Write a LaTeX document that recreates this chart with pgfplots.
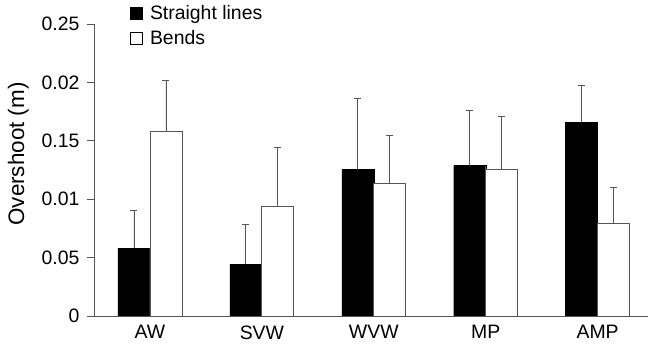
\documentclass[border=0pt]{standalone}
\usepackage{pgfplots}
\pgfplotsset{compat=1.18}
\usepackage{fontspec}
\setmainfont{Liberation Sans}
\definecolor{axgray}{HTML}{555555}
\begin{document}
\begin{tikzpicture}
\path (0,0) rectangle (651bp,351bp);
\begin{axis}[
  at={(94bp,35bp)}, anchor=south west,
  scale only axis, width=554bp, height=292bp,
  ybar=0pt, bar width=0.286,
  xmin=-0.5, xmax=4.45, ymin=0, ymax=0.25,
  axis lines*=left,
  axis line style={axgray, line width=0.8pt},
  xtick=data, xticklabels={AW,SVW,WVW,MP,AMP},
  xtick style={draw=none},
  ytick={0,0.05,0.1,0.15,0.2,0.25},
  yticklabels={0,0.05,0.01,0.15,0.02,0.25},
  ytick style={axgray, line width=0.8pt},
  tick align=outside, major tick length=7bp,
  ticklabel style={font=\fontsize{19.5}{21}\selectfont},
  xticklabel style={yshift=1bp},
  yticklabel style={xshift=-4bp},
  ylabel={Overshoot (m)},
  ylabel style={font=\fontsize{22.5}{24}\selectfont, yshift=6bp, xshift=16bp},
  legend style={at={(0.065,1.07)}, anchor=north west, draw=none, fill=none,
    font=\fontsize{19.5}{21}\selectfont, row sep=5bp, inner sep=0pt,
    /tikz/every even column/.append style={column sep=0pt}},
  legend cell align=left,
  legend image code/.code={\draw[#1,draw=black] (0bp,-6bp) rectangle (12bp,6bp); \path (17bp,0bp);},
  error bars/error bar style={axgray, line width=0.9pt},
  error bars/error mark options={axgray, line width=0.9pt, mark size=3.5bp, rotate=90},
]
\addplot[fill=black, draw=black,
  error bars/.cd, y dir=plus, y explicit]
  coordinates {(0,0.058) +- (0,0.032) (1,0.0445) +- (0,0.0343) (2,0.1256) +- (0,0.0608) (3,0.1287) +- (0,0.047) (4,0.1658) +- (0,0.032)};
\addplot[fill=white, draw=axgray, line width=0.8pt,
  error bars/.cd, y dir=plus, y explicit]
  coordinates {(0,0.158) +- (0,0.0435) (1,0.094) +- (0,0.0504) (2,0.1136) +- (0,0.0408) (3,0.1259) +- (0,0.045) (4,0.079) +- (0,0.031)};
\legend{Straight lines, Bends}
\end{axis}
\end{tikzpicture}
\end{document}
